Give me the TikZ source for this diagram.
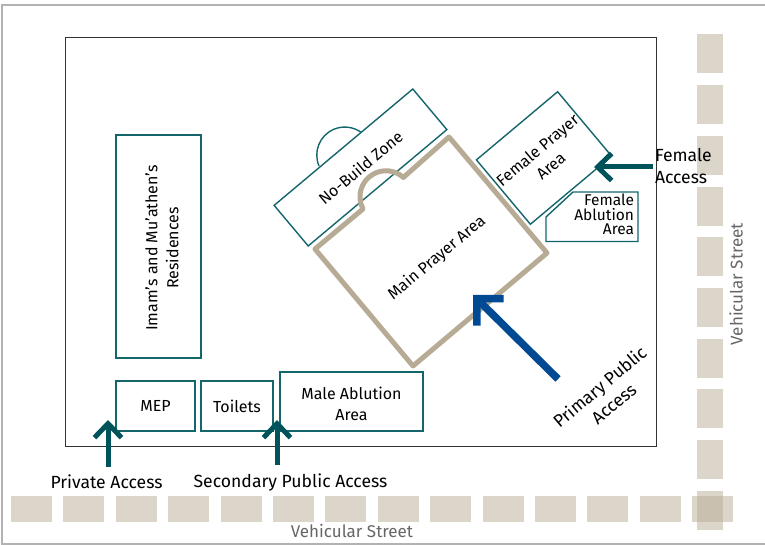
\documentclass[tikz,border=0pt]{standalone}
\usepackage{fontspec}
\setmainfont{Fira Sans}
\usetikzlibrary{arrows.meta, positioning}
\definecolor{roomteal}{HTML}{14666B}
\definecolor{accessteal}{HTML}{00535A}
\definecolor{accessblue}{HTML}{004A93}
\definecolor{walltan}{HTML}{B7AB95}
\definecolor{streetgrey}{HTML}{666666}
\begin{document}
\begin{tikzpicture}[x=1pt, y=-1pt,
		every node/.style={font=\fontsize{16}{21}\selectfont, align=center, inner sep=0pt, outer sep=0pt},
		room/.style={draw=roomteal, line width=1.4pt},
		streetblock/.style={fill=walltan, fill opacity=.5},
		wall/.style={draw=walltan, line width=5pt, line join=round},
		access/.style={draw=accessteal, line width=5pt, -{Straight Barb[sharp, length=14pt, width=27pt]}},
		primary/.style={draw=accessblue, line width=7.5pt, -{Straight Barb[sharp, length=19pt, width=38pt]}},
		accesslabel/.style={font=\fontsize{17.6}{22}\selectfont},
		streetlabel/.style={text=streetgrey, font=\fontsize{17}{21}\selectfont}]
	\useasboundingbox (0,0) rectangle (765,545);
	\draw [draw=black!30, line width=1.2pt] (765,5) -- (2,5) -- (2,544) -- (765,544);
	\draw [draw=black!80, line width=1pt] (65.5,38) rectangle (656.5,446);
	% streets
	\foreach \i in {0,...,13} {
		\node (south\i) [streetblock, minimum width=41pt, minimum height=26pt] at ({31.5+52.4*\i},509) {};
	}
	\foreach \i in {0,...,9} {
		\node (east\i) [streetblock, minimum width=26pt, minimum height=39pt] at (710,{54+50.7*\i}) {};
	}
	\node (southstreet) [streetlabel] at (352,531) {Vehicular Street};
	\node (eaststreet) [streetlabel, rotate=90] at (736,284) {Vehicular Street};
	% rooms
	\node (residences) [room, minimum width=85pt, minimum height=223pt] at (158.5,246.5) {};
	\node (residenceslabel) [rotate=90] at (162,248) {Imam's and Mu'athen's\\Residences};
	\node (mep) [room, minimum width=79pt, minimum height=50pt] at (155.5,406) {MEP};
	\node (toilets) [room, right=6pt of mep, minimum width=72pt, minimum height=50pt] {Toilets};
	\node (maleablution) [room, anchor=south west, minimum width=143pt, minimum height=59pt] at (280,431) {};
	\node (maleablutionlabel) at (351.5,403.5) {Male Ablution\\Area};
	\node (nobuild) [room, rotate=40, minimum width=181pt, minimum height=53pt] at (360.5,167.5) {No-Build Zone};
	\draw [room] (319,166) arc [start angle=203, end angle=53.5, radius=28pt];
	\node (femaleprayer) [room, rotate=40, minimum width=106pt, minimum height=84pt] at (544,158) {Female Prayer\\Area};
	\draw [room] (573,192) -- (638,192) -- (638,241.5) -- (546,241.5) -- (546,217) -- cycle;
	\node (femaleablution) [anchor=north east, align=right, font=\fontsize{15.5}{14.5}\selectfont] at (634,194) {Female\\Ablution\\Area};
	\draw [wall] (315,249) -- (363,209) arc [start angle=208, end angle=48, radius=26pt] -- (449,137) -- (547,253) -- (413,366) -- cycle;
	\node (mainprayer) [rotate=40] at (437,258) {Main Prayer Area};
	% access
	\node (privatelabel) [accesslabel] at (106.5,482) {Private Access};
	\node (secondarylabel) [accesslabel] at (290.5,483) {Secondary Public Access};
	\node (femalelabel) [accesslabel, anchor=west, align=left] at (655,166) {Female\\Access};
	\node (primarylabel) [accesslabel, rotate=40] at (606.5,395) {Primary Public\\Access};
	\coordinate (privatefrom) at (108,467);
	\coordinate (privateto) at (108,420);
	\coordinate (secondaryfrom) at (277,465);
	\coordinate (secondaryto) at (277,420);
	\coordinate (femalefrom) at (653,167);
	\coordinate (femaleto) at (594,167);
	\coordinate (primaryfrom) at (558,379);
	\coordinate (primaryto) at (473,295);
	\draw [access] (privatefrom) -- (privateto);
	\draw [access] (secondaryfrom) -- (secondaryto);
	\draw [access] (femalefrom) -- (femaleto);
	\draw [primary] (primaryfrom) -- (primaryto);
\end{tikzpicture}
\end{document}
